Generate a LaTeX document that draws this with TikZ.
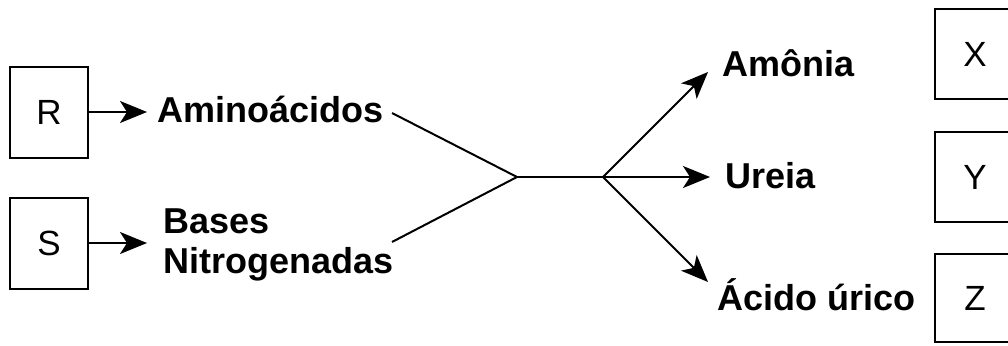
\documentclass[tikz,border=0pt]{standalone}
\usepackage{fontspec}
\setmainfont{Liberation Sans}
\usetikzlibrary{arrows.meta}
\begin{document}
\begin{tikzpicture}[x=1pt, y=-1pt,
  letterbox/.style={draw, line width=2pt, minimum width=78pt, minimum height=91pt,
    inner sep=0pt, font=\fontsize{35}{40}\selectfont},
  label/.style={inner sep=0pt, anchor=base west, font=\fontsize{36}{40}\selectfont\bfseries},
  link/.style={line width=2pt},
  arrowlink/.style={line width=2pt, -{Stealth[length=27pt, width=22pt, inset=7pt]}}
]
\useasboundingbox (0,0) rectangle (1008,345);
\clip (0,0) rectangle (1008,345);

% source boxes
\node[letterbox] (R) at (49,112) {R};
\node[letterbox] (S) at (49,243) {S};

% products of metabolism
\node[label] (amino) at (157,122) {Aminoácidos};
\node[label, align=left, anchor=north west] (bases) at (163,209) {Bases\\Nitrogenadas};

% excreted forms
\node[label] (amonia) at (722,77) {Amônia};
\node[label] (ureia) at (725,188) {Ureia};
\node[label] (acido) at (717,310) {Ácido úrico};

% target boxes, cut by the right margin
\node[letterbox, minimum width=80pt, minimum height=90pt] (X) at (975,54) {X};
\node[letterbox, minimum width=80pt, minimum height=90pt] (Y) at (975,177) {Y};
\node[letterbox, minimum width=80pt, minimum height=88pt] (Z) at (975,298) {Z};

% junction points and arrow tips
\coordinate (j1) at (517,177);
\coordinate (j2) at (603,177);
\coordinate (tipA) at (708,72);
\coordinate (tipU) at (710,177);
\coordinate (tipC) at (708,282);
\coordinate (fromA) at (392,113);
\coordinate (fromB) at (392,242);

% connectors
\draw[arrowlink] (R.east) -- ([xshift=-10pt]amino.west |- R.east);
\draw[arrowlink] (S.east) -- ([xshift=-16pt]bases.west |- S.east);
\draw[link] (fromA) -- (j1);
\draw[link] (fromB) -- (j1);
\draw[link] (j1) -- (j2);
\draw[arrowlink] (j2) -- (tipA);
\draw[arrowlink] (j2) -- (tipU);
\draw[arrowlink] (j2) -- (tipC);
\end{tikzpicture}
\end{document}
